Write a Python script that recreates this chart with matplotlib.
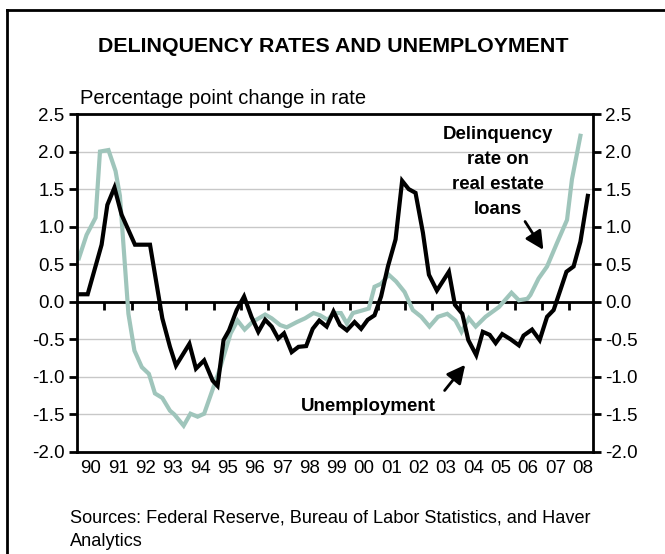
import matplotlib
matplotlib.use('Agg')
import matplotlib.pyplot as plt
from matplotlib.lines import Line2D

plt.rcParams['font.family'] = ['Liberation Sans', 'DejaVu Sans']

delinq_t = [1990.07, 1990.35, 1990.68, 1990.84, 1991.15, 1991.41, 1991.57, 1991.88,
            1992.10, 1992.37, 1992.63, 1992.85, 1993.12, 1993.40, 1993.56, 1993.90,
            1994.15, 1994.41, 1994.65, 1994.90, 1995.20, 1995.62, 1995.87, 1996.13,
            1996.41, 1996.65, 1996.88, 1997.12, 1997.43, 1997.67, 1998.04, 1998.34,
            1998.65, 1998.89, 1999.16, 1999.40, 1999.65, 1999.87, 2000.09, 2000.39,
            2000.67, 2000.88, 2001.12, 2001.40, 2001.67, 2001.98, 2002.28, 2002.59,
            2002.89, 2003.20, 2003.54, 2003.84, 2004.06, 2004.33, 2004.58, 2004.94,
            2005.43, 2005.89, 2006.16, 2006.47, 2006.58, 2006.88, 2007.19, 2007.55,
            2007.92, 2008.10, 2008.41]
delinq_v = [0.58, 0.89, 1.12, 2.00, 2.02, 1.74, 1.41, -0.16,
            -0.65, -0.87, -0.96, -1.22, -1.28, -1.45, -1.50, -1.65,
            -1.49, -1.53, -1.49, -1.23, -0.92, -0.42, -0.25, -0.37,
            -0.27, -0.22, -0.17, -0.22, -0.31, -0.34, -0.27, -0.22,
            -0.15, -0.18, -0.24, -0.15, -0.15, -0.29, -0.15, -0.12,
            -0.09, 0.20, 0.24, 0.36, 0.27, 0.13, -0.11, -0.20,
            -0.33, -0.20, -0.16, -0.25, -0.40, -0.22, -0.33, -0.20,
            -0.07, 0.12, 0.02, 0.04, 0.09, 0.31, 0.47, 0.78,
            1.09, 1.63, 2.21]

# unemployment rate
unemp_t = [1990.05, 1990.39, 1990.90, 1991.11, 1991.37, 1991.63, 1992.12, 1992.67,
           1993.12, 1993.40, 1993.62, 1994.11, 1994.35, 1994.65, 1994.96, 1995.14,
           1995.36, 1995.56, 1995.84, 1996.11, 1996.38, 1996.63, 1996.88, 1997.12,
           1997.36, 1997.57, 1997.85, 1998.10, 1998.38, 1998.62, 1998.86, 1999.13,
           1999.38, 1999.62, 1999.87, 2000.15, 2000.39, 2000.63, 2000.88, 2001.12,
           2001.37, 2001.65, 2001.89, 2002.13, 2002.38, 2002.65, 2002.87, 2003.16,
           2003.60, 2003.82, 2004.09, 2004.31, 2004.60, 2004.84, 2005.09, 2005.31,
           2005.55, 2005.86, 2006.16, 2006.33, 2006.64, 2006.92, 2007.19, 2007.43,
           2007.68, 2007.90, 2008.16, 2008.41, 2008.68]
unemp_v = [0.10, 0.10, 0.76, 1.29, 1.52, 1.16, 0.76, 0.76,
           -0.22, -0.60, -0.85, -0.56, -0.89, -0.78, -1.05, -1.12,
           -0.51, -0.38, -0.11, 0.07, -0.20, -0.40, -0.24, -0.33,
           -0.49, -0.42, -0.67, -0.60, -0.59, -0.36, -0.25, -0.33,
           -0.13, -0.31, -0.38, -0.27, -0.36, -0.24, -0.18, 0.07,
           0.47, 0.83, 1.61, 1.50, 1.45, 0.92, 0.36, 0.15,
           0.40, -0.04, -0.16, -0.51, -0.71, -0.40, -0.44, -0.55,
           -0.43, -0.50, -0.58, -0.45, -0.37, -0.51, -0.20, -0.11,
           0.16, 0.40, 0.47, 0.80, 1.41]

years = list(range(1990, 2009))
year_labels = ['%02d' % (y % 100) for y in years]
y_ticks = [-2.0, -1.5, -1.0, -0.5, 0.0, 0.5, 1.0, 1.5, 2.0, 2.5]

green = '#9fc5bb'

fig = plt.figure(figsize=(6.65, 5.54), dpi=100)
ax = fig.add_axes([77/665, 102/554, 516/665, 338/554])

for yv in y_ticks:
    ax.axhline(yv, color='#c8c8c8', lw=1, zorder=0)

ax.plot(delinq_t, delinq_v, color=green, lw=3, solid_joinstyle='miter', zorder=2)
ax.plot(unemp_t, unemp_v, color='black', lw=3, solid_joinstyle='miter', zorder=3)

ax.set_xlim(1990, 2008.87)
ax.set_ylim(-2.0, 2.5)
for s in ax.spines.values():
    s.set_linewidth(2)

ax.set_yticks(y_ticks)
ax.set_yticklabels(['%.1f' % v for v in y_ticks])
ax.tick_params(axis='y', which='both', direction='out', length=6, width=2,
               left=True, right=True, labelleft=True, labelright=True,
               labelsize=13.5, pad=3)

ax.set_xticks([y + 0.5 for y in years])
ax.set_xticklabels(year_labels)
ax.tick_params(axis='x', length=0, labelsize=13.5, pad=6)

# zero axis with year ticks
sec = ax.secondary_xaxis(2.0 / 4.5)
sec.set_xticks(years[1:])
sec.set_xticklabels([])
sec.spines['bottom'].set_linewidth(2)
sec.tick_params(direction='out', length=6, width=2)

ax.text(2005.39, 1.73, 'Delinquency\nrate on\nreal estate\nloans', ha='center',
        va='center', fontsize=13.4, fontweight='bold', linespacing=1.6)
ax.text(2000.64, -1.39, 'Unemployment', ha='center', va='center',
        fontsize=13.5, fontweight='bold')
arrow = dict(arrowstyle='-|>,head_length=1.1,head_width=0.55', color='black', lw=2)
ax.annotate('', xy=(2007.11, 0.66), xytext=(2006.33, 1.10), arrowprops=arrow)
ax.annotate('', xy=(2004.26, -0.81), xytext=(2003.38, -1.21), arrowprops=arrow)

fig.text(333/665, 1 - 46/554, 'DELINQUENCY RATES AND UNEMPLOYMENT', ha='center',
         va='center', fontsize=15.4, fontweight='bold')
fig.text(80/665, 1 - 98/554, 'Percentage point change in rate', ha='left',
         va='center', fontsize=14.5)
fig.text(70/665, 1 - 518/554, 'Sources: Federal Reserve, Bureau of Labor Statistics, and Haver',
         ha='left', va='center', fontsize=13.1)
fig.text(70/665, 1 - 541/554, 'Analytics', ha='left', va='center', fontsize=13.1)

# outer frame (left and top edges visible)
fig.add_artist(Line2D([7/665, 7/665], [0, 1 - 10/554], transform=fig.transFigure,
                      color='black', lw=2))
fig.add_artist(Line2D([7/665, 1], [1 - 10/554, 1 - 10/554], transform=fig.transFigure,
                      color='black', lw=2))

fig.savefig('out.png', dpi=100)
